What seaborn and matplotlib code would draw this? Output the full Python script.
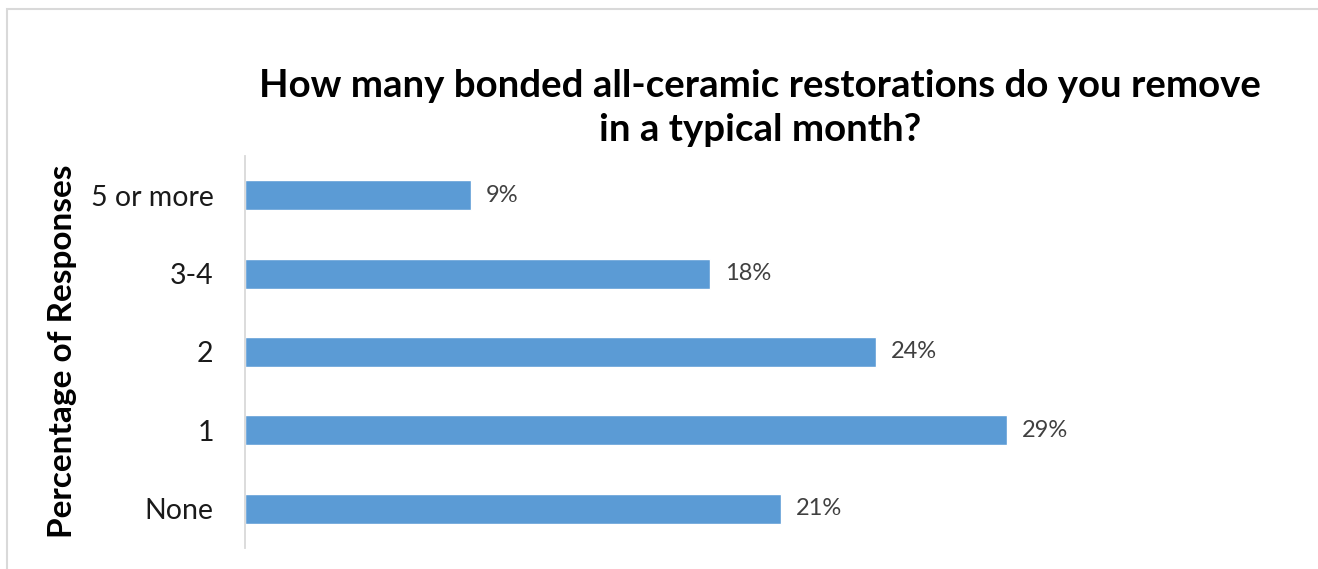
import matplotlib
matplotlib.use("Agg")
import matplotlib.pyplot as plt
import seaborn as sns
import pandas as pd
from matplotlib.patches import Rectangle

categories = ["5 or more", "3-4", "2", "1", "None"]
values = [8.6, 17.7, 24.0, 29.0, 20.4]
value_labels = ["9%", "18%", "24%", "29%", "21%"]
title = "How many bonded all-ceramic restorations do you remove\nin a typical month?"
ylabel = "Percentage of Responses"

sns.set_theme(style="white")
plt.rcParams["font.family"] = ["Lato", "DejaVu Sans"]

W, H = 1318, 569
fig = plt.figure(figsize=(W / 100, H / 100), dpi=100)
fig.patch.set_facecolor("white")

ax_left, ax_right = 245, 1280
ax_top, ax_bot = 156, 548
ax = fig.add_axes([ax_left / W, 1 - ax_bot / H, (ax_right - ax_left) / W, (ax_bot - ax_top) / H])

df = pd.DataFrame({"cat": categories, "val": values})
sns.barplot(data=df, x="val", y="cat", order=categories, color="#5B9BD5",
            saturation=1, width=0.385, ax=ax)

ax.set_xlim(0, (ax_right - ax_left) / 26.28)
ax.set_ylim(4.5, -0.5)
ax.set_xticks([])
ax.set_xlabel("")
ax.set_ylabel("")
for s in ["top", "right", "bottom"]:
    ax.spines[s].set_visible(False)
ax.spines["left"].set_color("#D9D9D9")
ax.spines["left"].set_linewidth(1.3)
ax.tick_params(axis="y", length=0, pad=22.5, labelsize=20.5, labelcolor="#1a1a1a")

for i, (v, lab) in enumerate(zip(values, value_labels)):
    ax.annotate(lab, xy=(v, i), xytext=(15, 0), textcoords="offset pixels",
                ha="left", va="center", fontsize=17, color="#404040")

fig.text(760 / W, 1 - 108 / H, title, ha="center", va="center",
         fontsize=27.6, fontweight="bold", color="#000000", linespacing=1.33)
fig.text(63 / W, 1 - 351 / H, ylabel, ha="center", va="center", rotation=90,
         fontsize=24, fontweight="bold", color="#000000")

fig.patches.append(Rectangle((7 / W, -0.1), 1.2, 1.1 - 9 / H, transform=fig.transFigure,
                             fill=False, edgecolor="#D9D9D9", linewidth=1.5))

fig.savefig("out.png", dpi=100, facecolor="white")
